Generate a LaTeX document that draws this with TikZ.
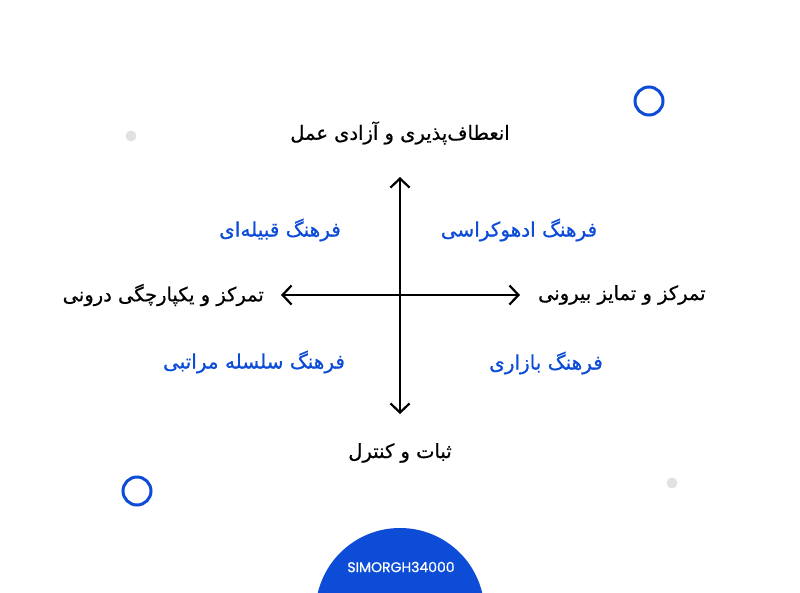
\documentclass[tikz,border=0pt]{standalone}
\usepackage{fontspec}
\setmainfont{DejaVu Sans}
\newfontfamily\arabicfont[Script=Arabic, FakeBold=0.7]{DejaVu Sans}
\newfontfamily\logofont[FakeBold=0.8]{Poppins}
\TeXXeTstate=1
\usetikzlibrary{arrows.meta}

\definecolor{simblue}{RGB}{12,76,214}
\definecolor{dotgray}{RGB}{226,226,226}
\newcommand{\fa}[1]{\arabicfont\beginR #1\endR}

\tikzset{
  axislabel/.style={font=\fontsize{19.5}{23}\selectfont, text=black, inner sep=0pt},
  culture/.style={font=\fontsize{20}{24}\selectfont, text=simblue, inner sep=0pt},
  ring/.style={draw=simblue, line width=3pt},
  dot/.style={fill=dotgray}
}

\begin{document}
\begin{tikzpicture}[x=1pt, y=-1pt, >={Straight Barb[length=9pt,width=19pt]}, line width=2.2pt]
    \useasboundingbox (0,0) rectangle (800,592);

    \coordinate (top) at (400,177);
    \coordinate (bottom) at (400,414);
    \coordinate (left) at (281,295);
    \coordinate (right) at (520,295);
    \draw[<->] (top) -- (bottom);
    \draw[<->] (left) -- (right);

    \node[axislabel] (flex) at (400,133) {\fa{انعطاف‌پذیری و آزادی عمل}};
    \node[axislabel] (stable) at (400,453) {\fa{ثبات و کنترل}};
    \node[axislabel, anchor=east] (inner) at (265,295) {\fa{تمرکز و یکپارچگی درونی}};
    \node[axislabel, anchor=west] (outer) at (537,295) {\fa{تمرکز و تمایز بیرونی}};

    \node[culture] (clan) at (280,230) {\fa{فرهنگ قبیله‌ای}};
    \node[culture] (adhoc) at (519,230) {\fa{فرهنگ ادهوکراسی}};
    \node[culture] (hier) at (254,362) {\fa{فرهنگ سلسله مراتبی}};
    \node[culture] (market) at (546,363) {\fa{فرهنگ بازاری}};

    \draw[ring] (649,101) circle (14);
    \draw[ring] (137,491) circle (14);
    \fill[dot] (131,136) circle (5.5);
    \fill[dot] (672,483) circle (5.5);

    \begin{scope}
        \clip (0,0) rectangle (800,592);
        \fill[simblue] (400,612.5) circle (84.5);
    \end{scope}
    \node[text=white, font=\logofont\fontsize{14}{16}\selectfont, inner sep=0pt] (logo) at (401,567) {SIMORGH34000};
\end{tikzpicture}
\end{document}
